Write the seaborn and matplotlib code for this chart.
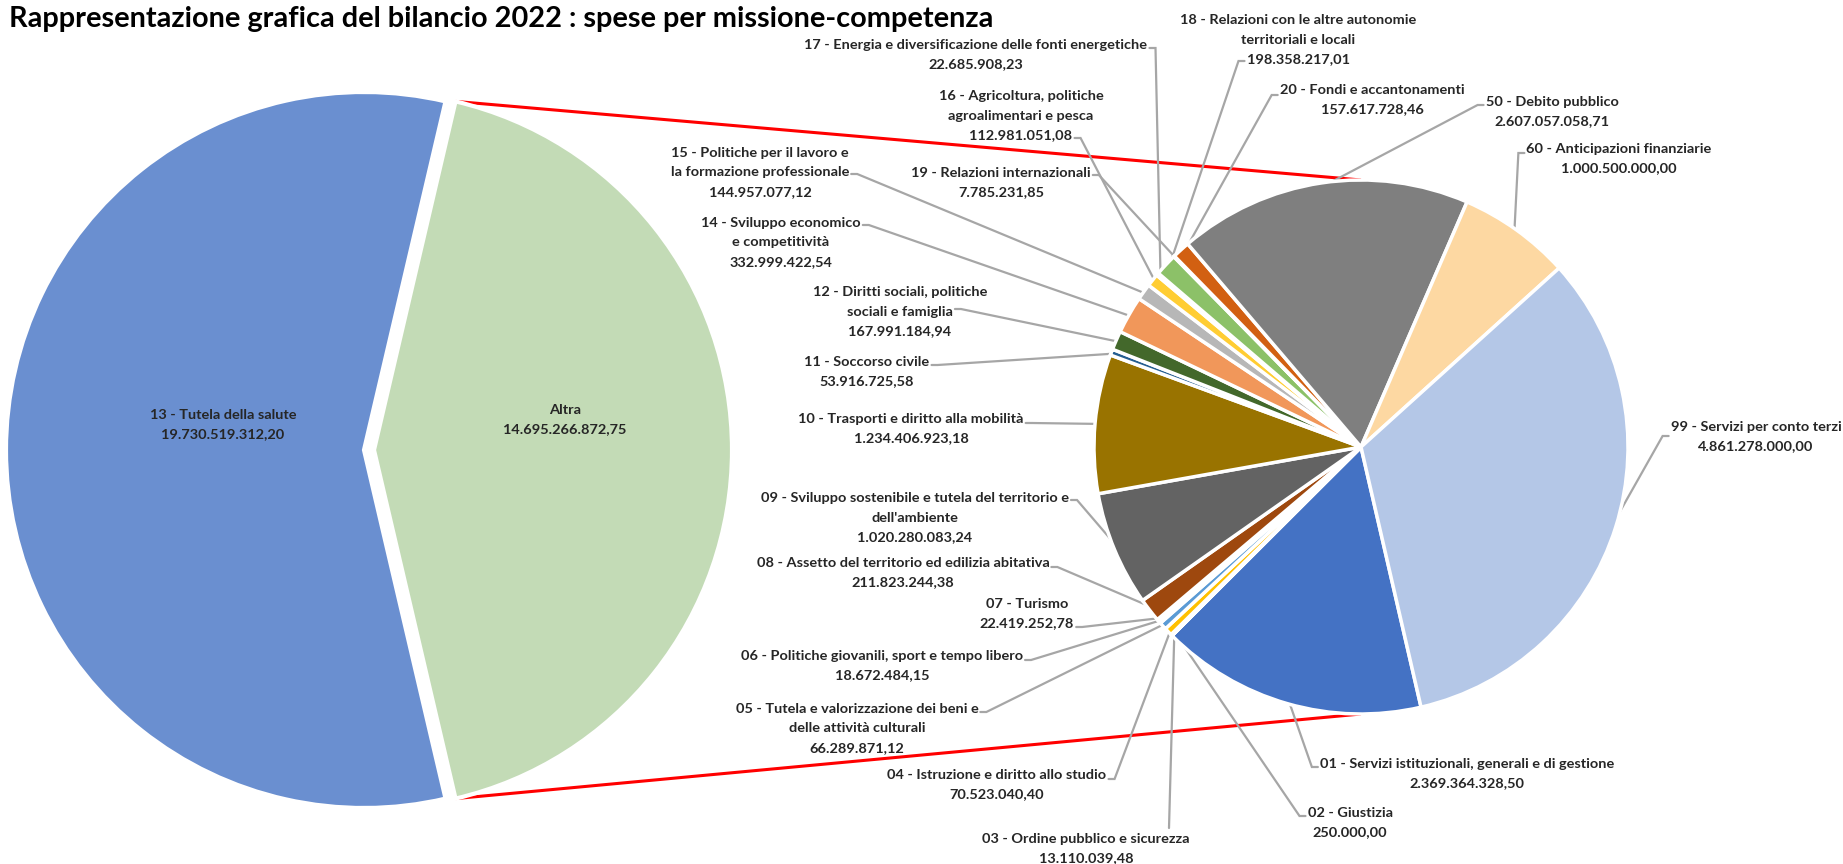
import numpy as np
import pandas as pd
import seaborn as sns
import matplotlib
matplotlib.use("Agg")
import matplotlib.pyplot as plt
from matplotlib import font_manager as fm

# ---------------- data ----------------
title = "Rappresentazione grafica del bilancio 2022 : spese per missione-competenza"

main_names = ["Altra", "13 - Tutela della salute"]
main_values = [14695266872.75, 19730519312.20]
main_value_labels = ["14.695.266.872,75", "19.730.519.312,20"]

codes = ["01", "02", "03", "04", "05", "06", "07", "08", "09", "10", "11",
         "12", "14", "15", "16", "17", "18", "19", "20", "50", "60", "99"]
names = [
    ["01 - Servizi istituzionali, generali e di gestione"],
    ["02 - Giustizia"],
    ["03 - Ordine pubblico e sicurezza"],
    ["04 - Istruzione e diritto allo studio"],
    ["05 - Tutela e valorizzazione dei beni e", "delle attività culturali"],
    ["06 - Politiche giovanili, sport e tempo libero"],
    ["07 - Turismo"],
    ["08 - Assetto del territorio ed edilizia abitativa"],
    ["09 - Sviluppo sostenibile e tutela del territorio e", "dell'ambiente"],
    ["10 - Trasporti e diritto alla mobilità"],
    ["11 - Soccorso civile"],
    ["12 - Diritti sociali, politiche", "sociali e famiglia"],
    ["14 - Sviluppo economico", "e competitività"],
    ["15 - Politiche per il lavoro e", "la formazione professionale"],
    ["16 - Agricoltura, politiche", "agroalimentari e pesca"],
    ["17 - Energia e diversificazione delle fonti energetiche"],
    ["18 - Relazioni con le altre autonomie", "territoriali e locali"],
    ["19 - Relazioni internazionali"],
    ["20 - Fondi e accantonamenti"],
    ["50 - Debito pubblico"],
    ["60 - Anticipazioni finanziarie"],
    ["99 - Servizi per conto terzi"],
]
values = [2369364328.50, 250000.00, 13110039.48, 70523040.40, 66289871.12,
          18672484.15, 22419252.78, 211823244.38, 1020280083.24, 1234406923.18,
          53916725.58, 167991184.94, 332999422.54, 144957077.12, 112981051.08,
          22685908.23, 198358217.01, 7785231.85, 157617728.46, 2607057058.71,
          1000500000.00, 4861278000.00]
value_labels = ["2.369.364.328,50", "250.000,00", "13.110.039,48", "70.523.040,40",
                "66.289.871,12", "18.672.484,15", "22.419.252,78", "211.823.244,38",
                "1.020.280.083,24", "1.234.406.923,18", "53.916.725,58", "167.991.184,94",
                "332.999.422,54", "144.957.077,12", "112.981.051,08", "22.685.908,23",
                "198.358.217,01", "7.785.231,85", "157.617.728,46", "2.607.057.058,71",
                "1.000.500.000,00", "4.861.278.000,00"]

# ---------------- styles ----------------
main_colors = ["#C3DBB6", "#6A8FD0"]
colors = ["#4472C4", "#ED7D31", "#A5A5A5", "#FFC000", "#5B9BD5", "#70AD47",
          "#264478", "#9E480E", "#636363", "#997300", "#255E91", "#43682B",
          "#F1975A", "#B7B7B7", "#FFCD33", "#7CAFDD", "#8CC168", "#335AA1",
          "#D26012", "#7F7F7F", "#FDD8A2", "#B4C7E7"]

# label layout: centre x, first line y (pixels from top), line used for leader, side, leader y
layout = {
    "17": (976, 45, 0, "right", 48),
    "18": (1298, 20, 2, "left", 61),
    "16": (1021, 96, 2, "right", 138),
    "20": (1372, 90, 0, "left", 95),
    "50": (1552, 102, 0, "left", 105),
    "60": (1619, 149, 0, "left", 153),
    "15": (760, 153, 1, "right", 174),
    "19": (1001, 173, 0, "right", 175),
    "14": (781, 223, 0, "right", 225),
    "12": (900, 292, 1, "right", 309),
    "11": (867, 362, 0, "right", 365),
    "10": (911, 419, 0, "right", 423),
    "09": (915, 498, 0, "right", 500),
    "08": (903, 563, 0, "right", 567),
    "07": (1027, 604, 1, "right", 627),
    "06": (882, 656, 0, "right", 660),
    "05": (857, 709, 0, "right", 712),
    "04": (997, 775, 0, "right", 779),
    "03": (1086, 839, 0, "top", 828),
    "02": (1350, 813, 0, "left", 816),
    "01": (1467, 764, 0, "left", 767),
    "99": (1756, 427, 0, "left", 436),
}

sns.set_theme(style="white")
avail = {f.name for f in fm.fontManager.ttflist}
fam = "Lato" if "Lato" in avail else "Liberation Sans"
plt.rcParams["font.family"] = [fam, "DejaVu Sans"]

W, H = 1843, 864
fig = plt.figure(figsize=(W / 100, H / 100), dpi=100)
fig.patch.set_facecolor("white")
ax = fig.add_axes([0, 0, 1, 1])


def Y(p):
    return H - p


# main pie
C1 = (364, Y(450))
R1 = 358
frac_altra = main_values[0] / sum(main_values)
half = frac_altra * 180.0
ax.pie(main_values, colors=main_colors, startangle=-half, counterclock=True,
       radius=R1, center=C1, explode=[10, 0], frame=True,
       wedgeprops=dict(edgecolor="white", linewidth=3))

# secondary pie
C2 = (1361, Y(447))
R2 = 267
start2 = -77
ax.pie(values, colors=colors, startangle=start2, counterclock=False,
       radius=R2, center=C2, frame=True,
       wedgeprops=dict(edgecolor="white", linewidth=2.5))

# red connectors (behind pies)
cx_alt = C1[0] + 10
for s in (1, -1):
    a = np.deg2rad(half)
    p0 = (cx_alt + R1 * np.cos(a), C1[1] + s * R1 * np.sin(a))
    p1 = (C2[0], C2[1] + s * R2)
    ax.plot([p0[0], p1[0]], [p0[1], p1[1]], color="#FF0000", lw=2.2, zorder=0.5,
            solid_capstyle="butt")

ax.set_xlim(0, W)
ax.set_ylim(0, H)
ax.set_aspect("equal", adjustable="datalim")
ax.set_xlim(0, W)
ax.set_ylim(0, H)
ax.axis("off")

txt_color = "#262626"
LS = 19.5

# font size calibration
fig.canvas.draw()
rend = fig.canvas.get_renderer()
probe = ax.text(0, 0, "01 - Servizi istituzionali, generali e di gestione",
                fontsize=10, fontweight="bold")
wprobe = probe.get_window_extent(rend).width
probe.remove()
fs = 10 * 293 / wprobe
probe = ax.text(0, 0, title, fontsize=20, fontweight="bold")
wt = probe.get_window_extent(rend).width
probe.remove()
fst = 20 * 981 / wt

ax.text(9, Y(19), title, fontsize=fst, fontweight="bold", color="black",
        ha="left", va="center")

# main pie labels
ax.text(223, Y(415), main_names[1], fontsize=fs, fontweight="bold", color=txt_color,
        ha="center", va="center")
ax.text(223, Y(434), main_value_labels[1], fontsize=fs, fontweight="bold",
        color=txt_color, ha="center", va="center")
ax.text(565, Y(410), main_names[0], fontsize=fs, fontweight="bold", color=txt_color,
        ha="center", va="center")
ax.text(565, Y(429), main_value_labels[0], fontsize=fs, fontweight="bold",
        color=txt_color, ha="center", va="center")

# secondary labels and leaders
tot = sum(values)
cum = np.cumsum([0] + values)
fig.canvas.draw()
for i, code in enumerate(codes):
    cx, y1, li, side, ya = layout[code]
    lines = names[i] + [value_labels[i]]
    objs = []
    for k, ln in enumerate(lines):
        t = ax.text(cx, Y(y1 + k * LS), ln, fontsize=fs, fontweight="bold",
                    color=txt_color, ha="center", va="center")
        objs.append(t)
    bb = objs[li].get_window_extent(rend)
    mid = start2 - 360.0 * (cum[i] + values[i] / 2) / tot
    m = np.deg2rad(mid)
    wx = C2[0] + 0.985 * R2 * np.cos(m)
    wy = C2[1] + 0.985 * R2 * np.sin(m)
    if side == "right":
        xs = [bb.x1 + 2, bb.x1 + 8, wx]
        ys = [Y(ya), Y(ya), wy]
    elif side == "left":
        xs = [bb.x0 - 2, bb.x0 - 8, wx]
        ys = [Y(ya), Y(ya), wy]
    else:
        xs = [1169, wx]
        ys = [Y(ya), wy]
    ax.plot(xs, ys, color="#A6A6A6", lw=1.6, zorder=0.8, solid_joinstyle="miter")

fig.savefig("out.png", dpi=100, facecolor="white")
